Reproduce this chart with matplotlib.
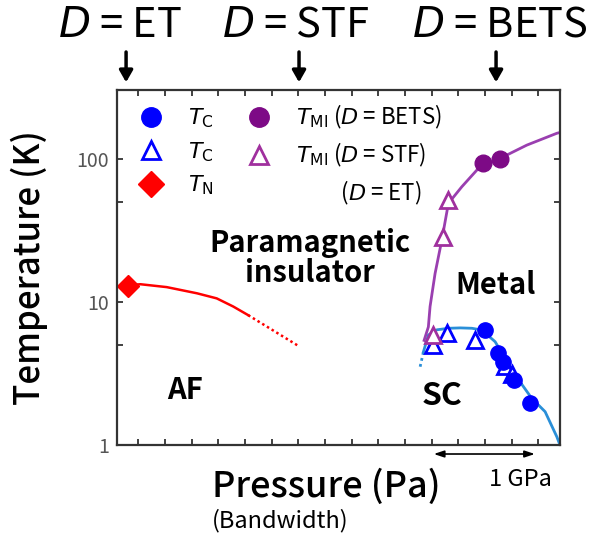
import numpy as np
import matplotlib.pyplot as plt
from matplotlib.lines import Line2D
from matplotlib.ticker import FixedLocator, NullFormatter, FixedFormatter
from matplotlib.transforms import blended_transform_factory

plt.rcParams["font.family"] = ["Noto Sans CJK JP", "DejaVu Sans"]
plt.rcParams["mathtext.fontset"] = "dejavusans"

# pressure axis in GPa (0 = first tick), temperature in K
# T_N of D = ET
tn_p = [-0.10]
tn_t = [13.0]
tn_line_p = [-0.10, 0.02, 0.266, 0.55, 0.735, 0.89, 1.03]
tn_line_t = [13.1, 13.3, 12.7, 11.5, 10.6, 9.3, 8.1]
tn_dot_p = [1.03, 1.49]
tn_dot_t = [8.1, 5.0]

# superconducting dome
tc_line_p = [2.674, 2.72, 2.80, 2.908, 3.02, 3.128, 3.221, 3.346, 3.44, 3.534, 3.69, 3.815, 3.925, 3.956]
tc_line_t = [4.5, 5.89, 6.4, 6.56, 6.6, 6.56, 6.38, 5.29, 4.05, 3.1, 2.13, 1.72, 1.15, 1.0]
tc_dot_p = [2.643, 2.674]
tc_dot_t = [3.54, 4.5]
tc_circ_p = [3.252, 3.377, 3.42, 3.52, 3.674]
tc_circ_t = [6.38, 4.39, 3.84, 2.86, 1.97]
tc_tri_p = [2.767, 2.893, 3.159, 3.44, 3.50]
tc_tri_t = [5.0, 6.05, 5.44, 3.6, 3.15]

# metal-insulator boundary
tmi_line_p = [2.68, 2.72, 2.736, 2.783, 2.846, 2.908, 3.034, 3.19, 3.39, 3.643, 3.925, 3.956]
tmi_line_t = [5.4, 6.7, 9.3, 15.8, 27.0, 48.7, 63.6, 85.5, 100, 124, 150, 152]
tmi_circ_p = [3.236, 3.393]
tmi_circ_t = [92.6, 100]
tmi_tri_p = [2.767, 2.861, 2.908]
tmi_tri_t = [5.9, 28.5, 51.4]

# donor molecules marked above the pressure axis
donor_names = ["ET", "STF", "BETS"]
donor_p = [-0.115, 1.507, 3.355]

fig = plt.figure(figsize=(5.94, 5.43), dpi=100)
ax = fig.add_axes([0.197, 0.1796, 0.746, 0.6545])

blue = "#0000ff"
dome = "#2a8fd8"
purple = "#7d0a86"
violet = "#9a3fb0"
red = "#ff0000"

ax.plot(tn_line_p, tn_line_t, color=red, lw=1.8)
ax.plot(tn_dot_p, tn_dot_t, color=red, lw=1.8, ls=(0, (1, 1.2)))
ax.plot(tc_line_p, tc_line_t, color=dome, lw=2)
ax.plot(tc_dot_p, tc_dot_t, color=dome, lw=2, ls=(0, (1, 1.2)))
ax.plot(tmi_line_p, tmi_line_t, color=violet, lw=2)

ax.plot(tc_tri_p, tc_tri_t, "^", ms=11, mfc="white", mec=blue, mew=2, ls="none")
ax.plot(tc_circ_p, tc_circ_t, "o", ms=11, color=blue, ls="none")
ax.plot(tmi_tri_p, tmi_tri_t, "^", ms=11, mfc="white", mec="#a0309e", mew=2, ls="none")
ax.plot(tmi_circ_p, tmi_circ_t, "o", ms=12, color=purple, ls="none")
ax.plot(tn_p, tn_t, "D", ms=11, color=red, ls="none")

ax.set_yscale("log")
ax.set_ylim(1, 300)
ax.set_xlim(-0.2, 3.956)

ax.xaxis.set_major_locator(FixedLocator(np.arange(0.25, 4.0, 0.5)))
ax.xaxis.set_minor_locator(FixedLocator(np.arange(0.0, 4.0, 0.5)))
ax.xaxis.set_major_formatter(NullFormatter())
ax.yaxis.set_major_locator(FixedLocator([1, 10, 100]))
ax.yaxis.set_major_formatter(FixedFormatter(["1", "10", "100"]))
ax.yaxis.set_minor_locator(FixedLocator([5, 50]))
ax.yaxis.set_minor_formatter(NullFormatter())
ax.tick_params(which="both", direction="in", top=True, right=True,
               length=4, width=1.3, color="#333333")
ax.tick_params(axis="y", labelsize=14, labelcolor="#555555", pad=6)
for s in ax.spines.values():
    s.set_linewidth(1.6)
    s.set_color("#333333")

ax.set_ylabel("Temperature (K)", fontsize=25, fontweight="medium", labelpad=20)

# region labels
ax.text(1.61, 20.3, "Paramagnetic\ninsulator", fontsize=21, fontweight="bold",
        ha="center", va="center", linespacing=1.0)
ax.text(3.346, 13.1, "Metal", fontsize=21, fontweight="bold", ha="center", va="center")
ax.text(0.44, 2.44, "AF", fontsize=21, fontweight="bold", ha="center", va="center")
ax.text(2.846, 2.23, "SC", fontsize=23, fontweight="bold", ha="center", va="center")

# legend
handles = [
    Line2D([], [], marker="o", ls="none", color=blue, ms=14),
    Line2D([], [], marker="^", ls="none", mfc="white", mec=blue, mew=2, ms=13),
    Line2D([], [], marker="D", ls="none", color=red, ms=13),
    Line2D([], [], marker="o", ls="none", color=purple, ms=14),
    Line2D([], [], marker="^", ls="none", mfc="white", mec="#a0309e", mew=2, ms=13),
    Line2D([], [], ls="none"),
]
labels = [r"$T_{\rm C}$", r"$T_{\rm C}$", r"$T_{\rm N}$",
          r"$T_{\rm MI}$ ($D$ = BETS)", r"$T_{\rm MI}$ ($D$ = STF)",
          "         ($D$ = ET)"]
ax.legend(handles, labels, ncol=2, loc="upper left", bbox_to_anchor=(0.005, 1.02),
          frameon=False, fontsize=16, handlelength=1.1, handletextpad=1.1,
          columnspacing=1.5, labelspacing=0.45, borderpad=0.4)

# donor arrows above the frame
trans = blended_transform_factory(ax.transData, ax.transAxes)
text_shift = [-0.06, -0.03, 0.04]
for name, p, dp in zip(donor_names, donor_p, text_shift):
    ax.annotate("", xy=(p, 1.014), xytext=(p, 1.115), xycoords=trans, textcoords=trans,
                arrowprops=dict(arrowstyle="-|>,head_width=0.4,head_length=0.7",
                                color="black", lw=2.5), annotation_clip=False)
    ax.text(p + dp, 1.183, "$D$ = " + name, transform=trans, fontsize=30,
            ha="center", va="center", clip_on=False)

# 1 GPa scale bar below the axis
ax.annotate("", xy=(2.745, -0.024), xytext=(3.745, -0.024), xycoords=trans, textcoords=trans,
            arrowprops=dict(arrowstyle="<|-|>,head_width=0.2,head_length=0.6",
                            color="black", lw=1.2), annotation_clip=False)
ax.text(3.58, -0.097, "1 GPa", transform=trans, fontsize=17, ha="center", va="center")

fig.text(0.357, 0.103, "Pressure (Pa)", fontsize=26, fontweight="medium", ha="left", va="center")
fig.text(0.357, 0.042, "(Bandwidth)", fontsize=17, ha="left", va="center")

fig.savefig("out.png", dpi=100)
